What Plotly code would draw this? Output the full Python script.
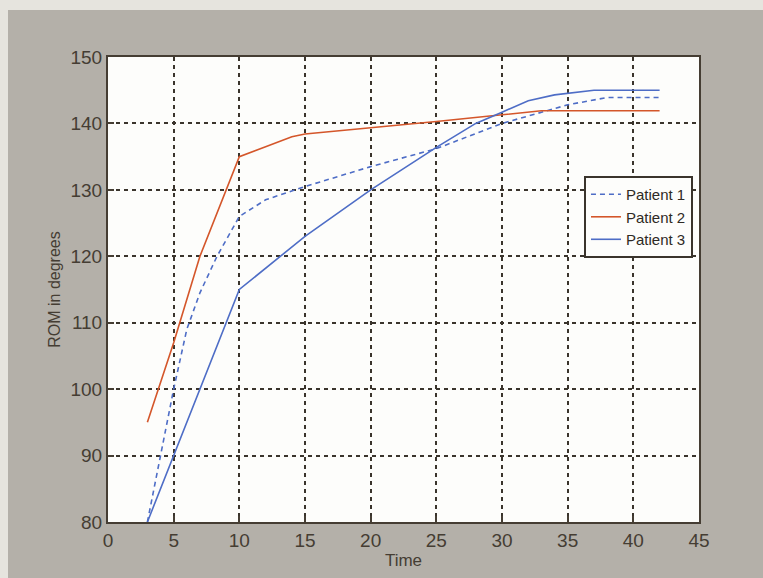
import plotly.graph_objects as go

# data
p1_x = [3, 4, 5, 6, 7, 8.3, 10, 12, 15, 20, 25, 30, 35, 38, 42]
p1_y = [80, 90, 100, 109, 114.5, 120, 126, 128.5, 130.5, 133.5, 136.2, 140, 142.8, 143.9, 143.9]

p2_x = [3, 5, 7, 10, 12, 14, 15, 20, 25, 30, 33, 42]
p2_y = [95, 107, 120, 135, 136.5, 138, 138.4, 139.3, 140.3, 141.3, 141.9, 141.9]

p3_x = [3, 5, 7, 9, 10, 15, 20, 25, 28, 30, 32, 34, 37, 42]
p3_y = [80, 90, 100, 110, 115, 123, 130, 136.4, 140, 141.7, 143.4, 144.3, 145, 145]

x_ticks = [0, 5, 10, 15, 20, 25, 30, 35, 40, 45]
y_ticks = [80, 90, 100, 110, 120, 130, 140, 150]

orange = "#d4562a"
blue = "#4e6dc6"
ink = "#453d33"
font_name = "Liberation Sans Narrow, Arial Narrow, Liberation Sans, sans-serif"


def create_figure():
    fig = go.Figure()

    fig.update_layout(
        width=763,
        height=578,
        paper_bgcolor="#b4b0a9",
        plot_bgcolor="#fdfdfb",
        font=dict(family=font_name, color=ink, size=19),
        margin=dict(l=108, r=64, t=57, b=56),
        legend=dict(
            x=0.9898, y=0.744,
            xanchor="right", yanchor="top",
            bgcolor="#fdfdfb",
            bordercolor="#3a342c",
            borderwidth=2,
            font=dict(family=font_name, size=15, color="#2f2a24"),
            tracegroupgap=0,
        ),
    )

    # lighter scan border at the top and left
    fig.add_shape(type="rect", xref="paper", yref="paper",
                  x0=-0.19, x1=1.12, y0=1.101, y1=1.13,
                  fillcolor="#e6e4de", line_width=0, layer="below")
    fig.add_shape(type="rect", xref="paper", yref="paper",
                  x0=-0.19, x1=-0.1692, y0=-0.13, y1=1.13,
                  fillcolor="#e6e4de", line_width=0, layer="below")

    grid = dict(
        showgrid=True,
        gridcolor="#3a342c",
        gridwidth=2,
        griddash="4px,4px",
        zeroline=False,
        showline=True,
        linecolor=ink,
        linewidth=2,
        mirror=True,
        ticks="inside",
        ticklen=6,
        tickcolor=ink,
        tickwidth=2,
        tickfont=dict(size=19, color=ink),
    )

    fig.update_xaxes(
        range=[0, 45],
        tickvals=x_ticks,
        title=dict(text="Time", font=dict(size=17, color=ink), standoff=4),
        **grid
    )

    fig.update_yaxes(
        range=[80, 150],
        tickvals=y_ticks,
        title=dict(text="ROM in degrees", font=dict(size=16, color=ink), standoff=6),
        **grid
    )

    return fig


def add_series(figure, x, y, name, color, dash):
    figure.add_trace(go.Scatter(
        x=x,
        y=y,
        name=name,
        mode="lines",
        line=dict(color=color, width=1.6, dash=dash),
    ))


fig = create_figure()
add_series(fig, p1_x, p1_y, "Patient 1", blue, "5px,4px")
add_series(fig, p2_x, p2_y, "Patient 2", orange, "solid")
add_series(fig, p3_x, p3_y, "Patient 3", blue, "solid")

fig.write_html(
    "out.html",
    config={"displayModeBar": False},
    post_script="document.body.style.margin='0';document.body.style.overflow='hidden';",
)
